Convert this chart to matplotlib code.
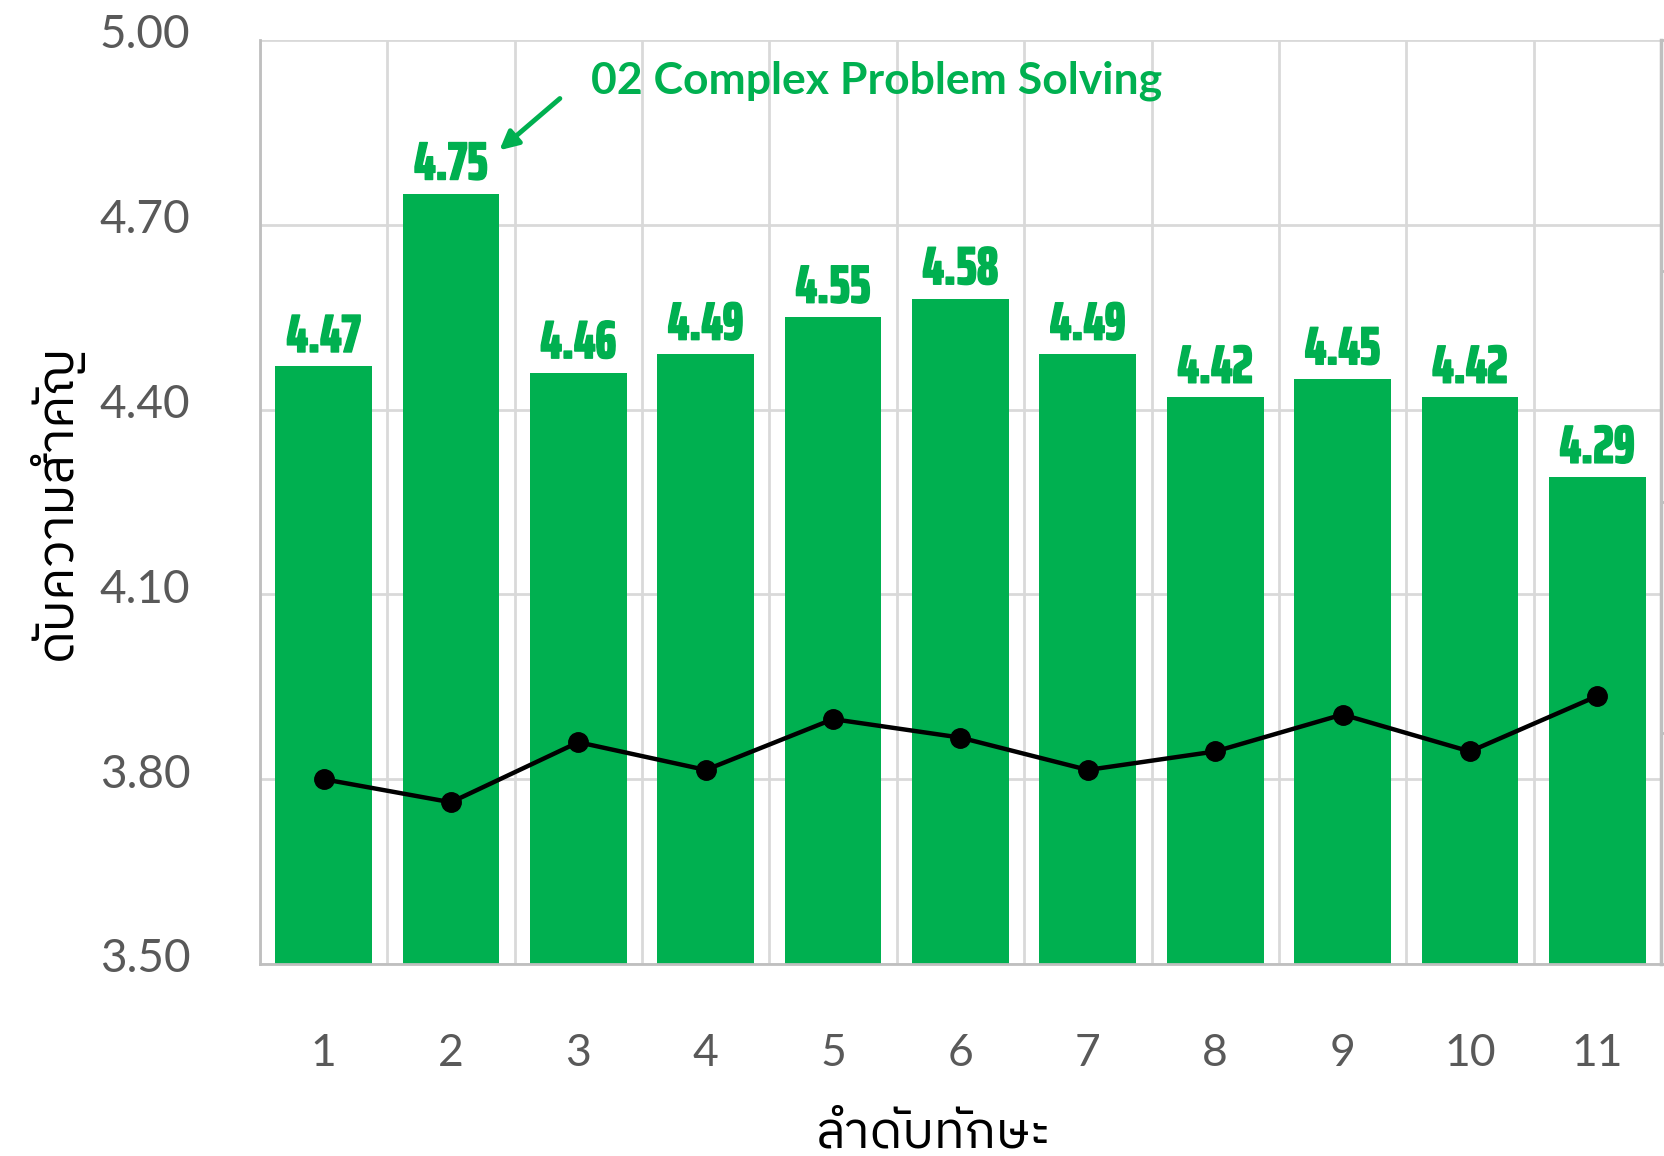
import matplotlib
matplotlib.use('Agg')
import matplotlib.pyplot as plt
from matplotlib import font_manager
from matplotlib.font_manager import FontProperties
from matplotlib.textpath import TextPath
import matplotlib.transforms as mtransforms
import matplotlib.patheffects as pe

# data
skills = ['1', '2', '3', '4', '5', '6', '7', '8', '9', '10', '11']
importance = [4.47, 4.75, 4.46, 4.49, 4.55, 4.58, 4.49, 4.42, 4.45, 4.42, 4.29]
# line sits on a secondary axis whose labels are cut off in the reference
line_values = [3.40, 3.35, 3.48, 3.42, 3.53, 3.49, 3.42, 3.46, 3.54, 3.46, 3.58]
left_ticks = [3.50, 3.80, 4.10, 4.40, 4.70, 5.00]
right_ticks = [3.0, 3.5, 4.0, 4.5, 5.0]

green = '#00B050'
grey_text = '#595959'
grid_col = '#D9D9D9'

# pick a font that has Thai glyphs, if one is around
fonts = font_manager.fontManager.ttflist
names = sorted({f.name for f in fonts})
thai = [n for n in names if 'Thai' in n]
thai_family = [thai[0], 'DejaVu Sans'] if thai else ['DejaVu Sans']

# bold, narrow face for the value labels
_wmap = {'bold': 700, 'heavy': 900, 'black': 900, 'extra bold': 800, 'ultrabold': 800}

def _weight(f):
    w = f.weight
    if isinstance(w, str):
        return _wmap.get(w, 400)
    return w

narrow_cands = [f for f in fonts if 700 <= _weight(f) <= 800 and
                ('Narrow' in f.name or 'Condensed' in f.name or 'Condensed' in f.fname
                 or f.stretch in ('condensed', 'extra-condensed', 'ultra-condensed'))
                and 'Oblique' not in f.fname and 'Italic' not in f.fname]

def _ext(fname):
    return TextPath((0, 0), '4.47', size=10, prop=FontProperties(fname=fname)).get_extents()

def _ratio(f):
    try:
        e = _ext(f.fname)
        return e.width / e.height
    except Exception:
        return 99

label_px = 37  # digit height in the reference, pixels
if narrow_cands:
    # heaviest first, then closest to the reference's width/height of about 2
    best = min(narrow_cands, key=lambda f: (-_weight(f), abs(_ratio(f) - 2.0)))
    h10 = _ext(best.fname).height
    narrow_prop = FontProperties(fname=best.fname, size=10 * label_px * 0.72 / h10)
else:
    narrow_prop = FontProperties(family='DejaVu Sans', weight='bold', stretch='condensed', size=36)

plt.rcParams['font.family'] = ['Lato', 'DejaVu Sans']

fig = plt.figure(figsize=(16.64, 11.56), dpi=100)
ax = fig.add_axes([0.1562, 0.1661, 0.9982 - 0.1562, 0.9654 - 0.1661])

x = list(range(1, len(skills) + 1))
ax.bar(x, importance, width=0.76, color=green, zorder=2)

ax.set_ylim(3.5, 5.0)
ax.set_xlim(0.5, len(skills) + 0.5)
ax.set_yticks(left_ticks)
ax.set_yticklabels([f'{t:.2f}' for t in left_ticks])
ax.set_xticks(x)
ax.set_xticklabels(skills)
ax.tick_params(axis='y', length=0, pad=50, labelsize=33, labelcolor=grey_text)
ax.tick_params(axis='x', length=0, pad=50, labelsize=32, labelcolor=grey_text)
# Excel puts the value labels a touch above their gridline
shift = mtransforms.ScaledTranslation(0, 0.085, fig.dpi_scale_trans)
for lab in ax.get_yticklabels():
    lab.set_transform(lab.get_transform() + shift)

# gridlines: horizontal at ticks, vertical between categories
ax.set_xticks([i + 0.5 for i in range(len(skills) + 1)], minor=True)
ax.tick_params(axis='x', which='minor', length=0)
ax.grid(axis='y', color=grid_col, linewidth=2, zorder=0)
ax.grid(axis='x', which='minor', color=grid_col, linewidth=2, zorder=0)
ax.set_axisbelow(True)

for s in ['top', 'right']:
    ax.spines[s].set_visible(False)
ax.spines['left'].set_color('#BFBFBF')
ax.spines['bottom'].set_color('#BFBFBF')
ax.spines['left'].set_linewidth(2)
ax.spines['bottom'].set_linewidth(2)

for xi, v in zip(x, importance):
    ax.annotate(f'{v:.2f}', (xi, v), xytext=(0, 2.5), textcoords='offset points',
                ha='center', va='bottom', color=green,
                fontproperties=narrow_prop, zorder=4,
                path_effects=[pe.withStroke(linewidth=1.0, foreground=green)])

ax.set_ylabel('ดับความสำคัญ', family=thai_family, fontsize=37, color='black', labelpad=12)
ax.set_xlabel('ลำดับทักษะ', family=thai_family, fontsize=37, color='black', labelpad=25)
ax.xaxis.label.set_x(0.481)

# secondary axis for the line
ax2 = ax.twinx()
ax2.plot(x, line_values, color='black', linewidth=3.2, marker='o', markersize=14, zorder=5)
ax2.set_ylim(3.0, 5.0)
ax2.set_yticks(right_ticks)
ax2.tick_params(axis='y', length=6, width=2, color='#BFBFBF', labelright=False)
for s in ['top', 'left', 'bottom']:
    ax2.spines[s].set_visible(False)
ax2.spines['right'].set_color('#BFBFBF')
ax2.spines['right'].set_linewidth(2.5)

# callout for the top bar
ax.text(3.1, 4.934, '02 Complex Problem Solving', color=green, fontsize=32,
        fontweight='bold', ha='left', va='center', zorder=6)
ax.annotate('', xy=(2.38, 4.821), xytext=(2.855, 4.905),
            arrowprops=dict(arrowstyle='-|>', color=green, lw=3.5, mutation_scale=28,
                            shrinkA=0, shrinkB=0),
            zorder=6)

fig.savefig('out.png', dpi=100)
